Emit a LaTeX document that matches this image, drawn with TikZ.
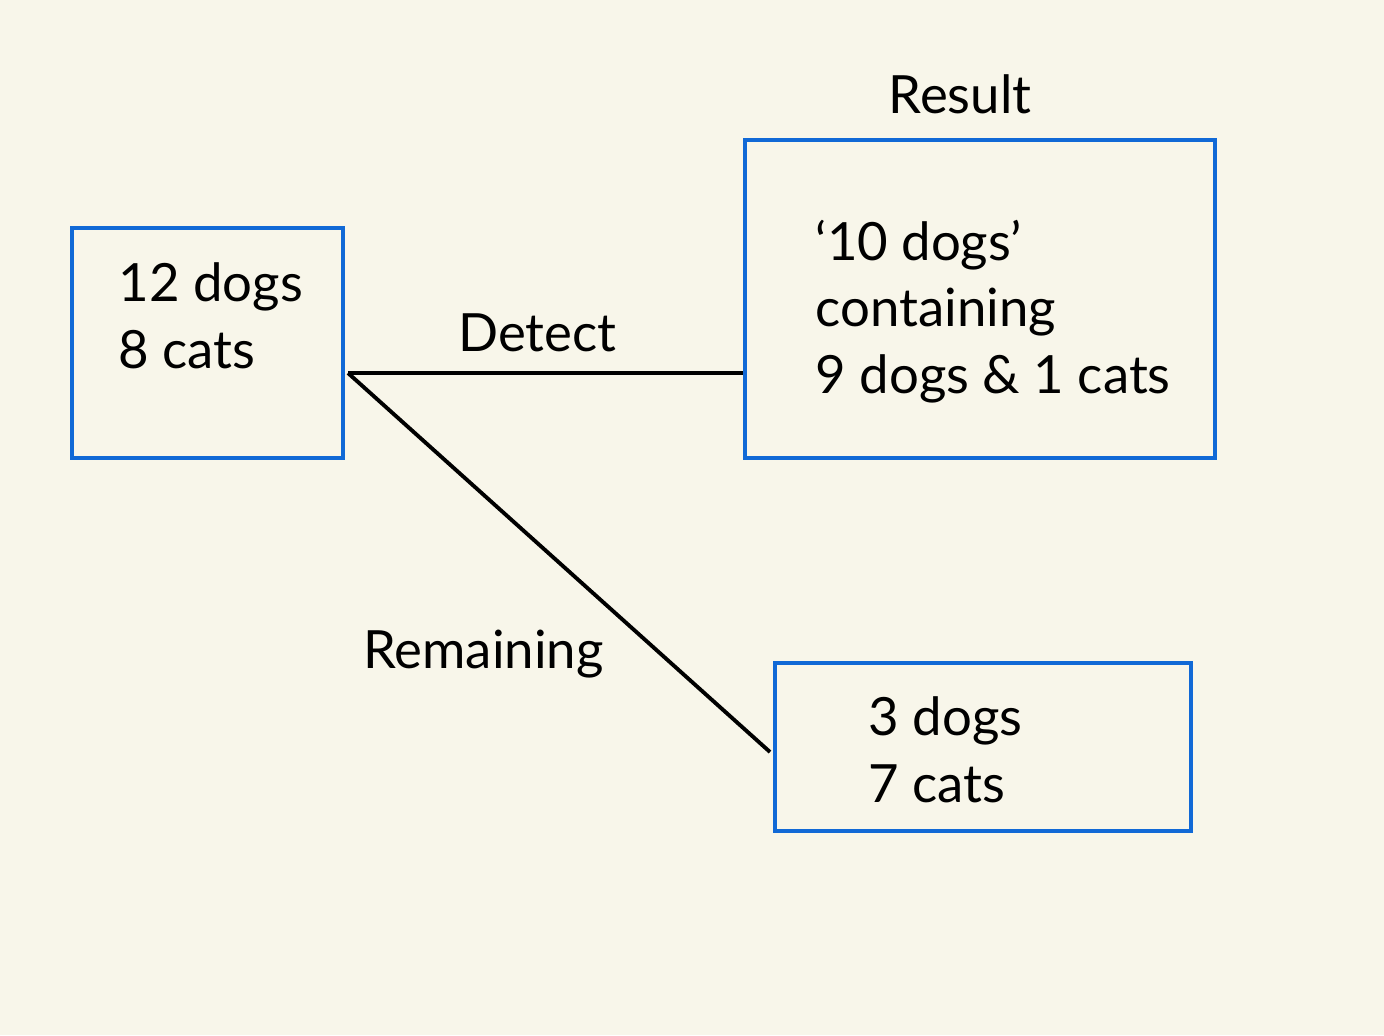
\documentclass[tikz,border=0pt]{standalone}
\usepackage{fontspec}
\setmainfont{Lato}
\usepackage{xcolor}
\definecolor{paper}{HTML}{F8F6EA}
\definecolor{boxblue}{HTML}{1169D6}

\begin{document}
\begin{tikzpicture}[
    box/.style={draw=boxblue, line width=1.3pt, minimum width=#1, inner sep=0pt},
    txt/.style={font=\fontsize{15}{18.9}\selectfont, align=left, inner sep=0pt, anchor=base west},
    lbl/.style={font=\fontsize{15}{18.9}\selectfont, inner sep=0pt, anchor=base},
    link/.style={line width=1.1pt}
  ]
    \fill[paper] (0, 0) rectangle (13.84, -10.35);
    \useasboundingbox (0, 0) rectangle (13.84, -10.35);

    \node[box=2.71cm, minimum height=2.30cm] (start) at (2.075, -3.43){};
    \node[box=4.70cm, minimum height=3.18cm] (res) at (9.80, -2.99){};
    \node[box=4.16cm, minimum height=1.68cm] (rem) at (9.83, -7.47){};

    % anchors sit on the last line
    \node[txt] (starttxt) at (1.18, -3.68){12 dogs\\8 cats};
    \node[txt] (restxt) at (8.15, -3.93){‘10 dogs’\\containing\\9 dogs \& 1 cats};
    \node[txt] (remtxt) at (8.68, -8.02){3 dogs\\7 cats};

    \node[lbl] (reslbl) at (9.60, -1.13){Result};
    \node[lbl] (remlbl) at (4.835, -6.68){Remaining};

    \coordinate (split) at (3.48, -3.73);
    \coordinate (remend) at (7.70, -7.52);
    \draw[link] (split)--(split -| res.west) node[lbl, pos=0.48, above=0.19cm] (detlbl){Detect};
    \draw[link] (split)--(remend);
  \end{tikzpicture}
\end{document}
